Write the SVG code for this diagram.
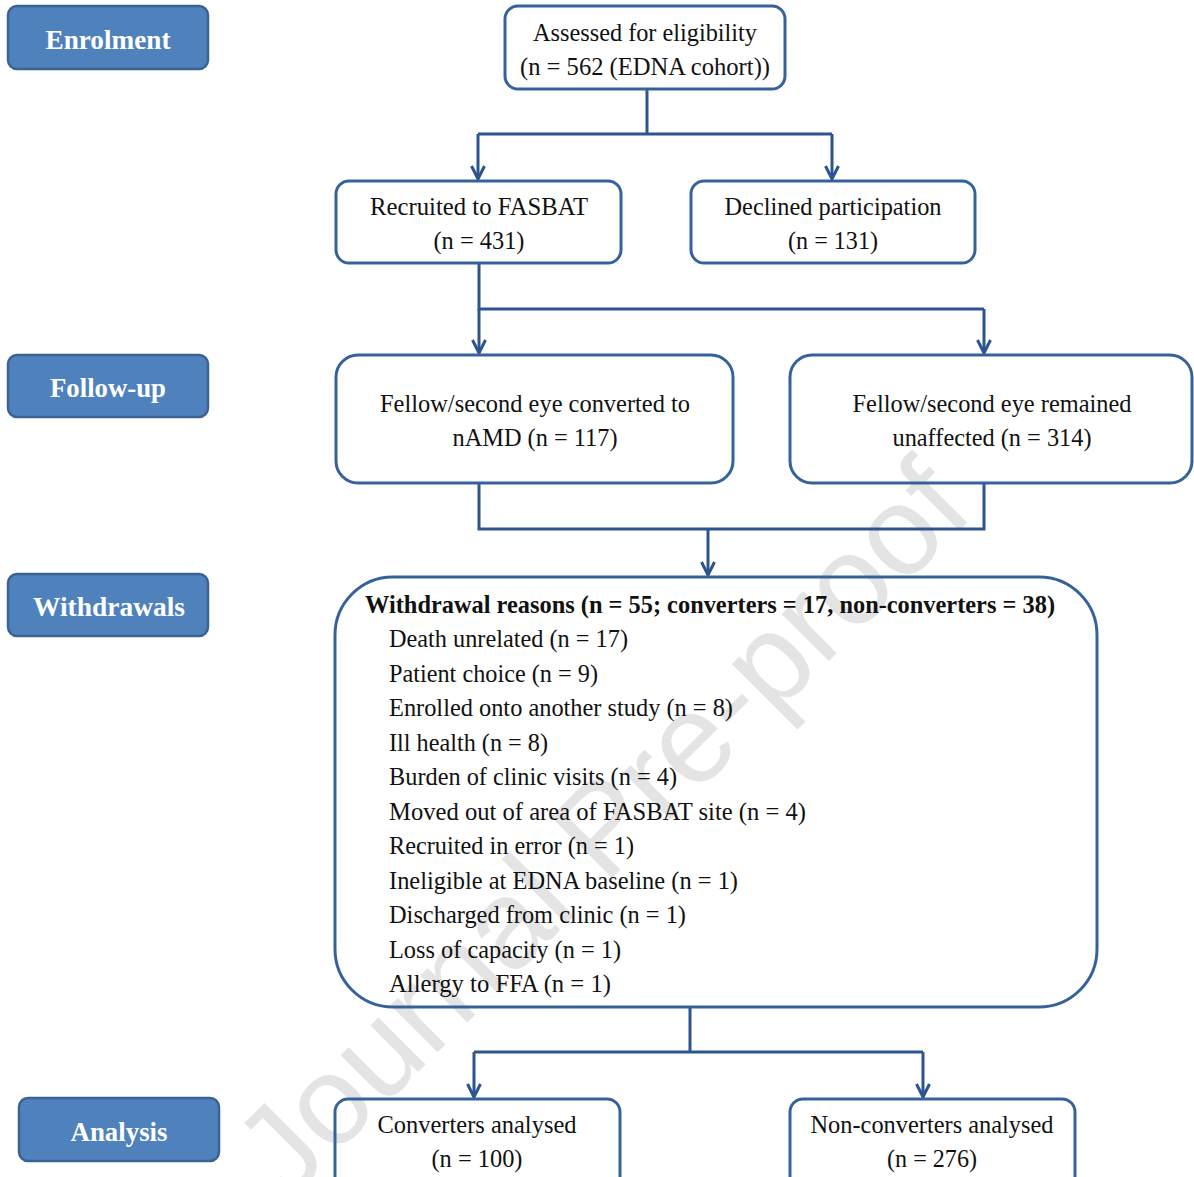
<svg xmlns="http://www.w3.org/2000/svg" width="1194" height="1177" viewBox="0 0 1194 1177">
<defs>
<style>
.lbl rect{fill:#4F81BD;stroke:#3A6293;stroke-width:2.5}
.lbl text{font-family:"Liberation Serif",serif;font-weight:bold;font-size:28px;fill:#fff;text-anchor:middle}
.box rect{fill:none;stroke:#36629C;stroke-width:3}
.box text{font-family:"Liberation Serif",serif;font-size:26px;fill:#111;text-anchor:middle}
.box text.l{text-anchor:start}
.box text.b{font-weight:bold;text-anchor:start}
.con path{fill:none;stroke:#2C5490;stroke-width:3}
.wm{font-family:"Liberation Sans",sans-serif;font-size:126px;fill:#e4e4e4;text-anchor:middle}
</style>
<marker id="arr" markerUnits="userSpaceOnUse" viewBox="-16 -9 18 18" refX="0" refY="0" markerWidth="18" markerHeight="18" orient="auto">
<path d="M-13,-6.5 L0,0 L-13,6.5" fill="none" stroke="#2C5490" stroke-width="3"/>
</marker>
</defs>
<rect width="1194" height="1177" fill="#fff"/>
<text class="wm" transform="translate(632,858) rotate(-45)">Journal Pre-proof</text>

<g id="lbl-enrolment" class="lbl"><rect x="8" y="6" width="200" height="63" rx="9"/><text x="108" y="49" textLength="125" lengthAdjust="spacingAndGlyphs">Enrolment</text></g>
<g id="lbl-followup" class="lbl"><rect x="8" y="355" width="200" height="62" rx="9"/><text x="108" y="397" textLength="116" lengthAdjust="spacingAndGlyphs">Follow-up</text></g>
<g id="lbl-withdrawals" class="lbl"><rect x="8" y="574" width="200" height="62" rx="9"/><text x="109" y="616" textLength="152" lengthAdjust="spacingAndGlyphs">Withdrawals</text></g>
<g id="lbl-analysis" class="lbl"><rect x="19" y="1098" width="200" height="63" rx="9"/><text x="119" y="1141" textLength="97" lengthAdjust="spacingAndGlyphs">Analysis</text></g>

<g id="connectors" class="con">
<path d="M647,88 V134"/>
<path d="M478,134 H832"/>
<path d="M478,134 V179" marker-end="url(#arr)"/>
<path d="M832,134 V179" marker-end="url(#arr)"/>
<path d="M479,263 V309 H984"/>
<path d="M479,309 V353" marker-end="url(#arr)"/>
<path d="M984,309 V353" marker-end="url(#arr)"/>
<path d="M479,483 V529 H984 V483"/>
<path d="M708,529 V575" marker-end="url(#arr)"/>
<path d="M690,1007 V1052"/>
<path d="M474,1052 H923"/>
<path d="M474,1052 V1097" marker-end="url(#arr)"/>
<path d="M923,1052 V1097" marker-end="url(#arr)"/>
</g>

<g id="assessed" class="box"><rect x="505" y="6" width="280" height="83" rx="13"/>
<text x="645" y="41" textLength="224" lengthAdjust="spacingAndGlyphs">Assessed for eligibility</text>
<text x="645" y="75" textLength="250" lengthAdjust="spacingAndGlyphs">(n = 562 (EDNA cohort))</text></g>

<g id="recruited" class="box"><rect x="336" y="181" width="285" height="82" rx="13"/>
<text x="479" y="215" textLength="218" lengthAdjust="spacingAndGlyphs">Recruited to FASBAT</text>
<text x="479" y="249" textLength="91" lengthAdjust="spacingAndGlyphs">(n = 431)</text></g>

<g id="declined" class="box"><rect x="691" y="181" width="284" height="82" rx="13"/>
<text x="833" y="215" textLength="217" lengthAdjust="spacingAndGlyphs">Declined participation</text>
<text x="833" y="249" textLength="90" lengthAdjust="spacingAndGlyphs">(n = 131)</text></g>

<g id="converted" class="box"><rect x="336" y="355" width="397" height="128" rx="22"/>
<text x="535" y="412" textLength="310" lengthAdjust="spacingAndGlyphs">Fellow/second eye converted to</text>
<text x="535" y="446" textLength="165" lengthAdjust="spacingAndGlyphs">nAMD (n = 117)</text></g>

<g id="unaffected" class="box"><rect x="790" y="355" width="402" height="128" rx="22"/>
<text x="992" y="412" textLength="279" lengthAdjust="spacingAndGlyphs">Fellow/second eye remained</text>
<text x="992" y="446" textLength="199" lengthAdjust="spacingAndGlyphs">unaffected (n = 314)</text></g>

<g id="withdrawals" class="box"><rect x="335" y="577" width="762" height="430" rx="58"/>
<text class="b" x="365" y="613" textLength="690" lengthAdjust="spacingAndGlyphs">Withdrawal reasons (n = 55; converters = 17, non-converters = 38)</text>
<text class="l" x="389" y="647" textLength="239" lengthAdjust="spacingAndGlyphs">Death unrelated (n = 17)</text>
<text class="l" x="389" y="681.5" textLength="209" lengthAdjust="spacingAndGlyphs">Patient choice (n = 9)</text>
<text class="l" x="389" y="716" textLength="344" lengthAdjust="spacingAndGlyphs">Enrolled onto another study (n = 8)</text>
<text class="l" x="389" y="750.5" textLength="159" lengthAdjust="spacingAndGlyphs">Ill health (n = 8)</text>
<text class="l" x="389" y="785" textLength="288" lengthAdjust="spacingAndGlyphs">Burden of clinic visits (n = 4)</text>
<text class="l" x="389" y="819.5" textLength="417" lengthAdjust="spacingAndGlyphs">Moved out of area of FASBAT site (n = 4)</text>
<text class="l" x="389" y="854" textLength="245" lengthAdjust="spacingAndGlyphs">Recruited in error (n = 1)</text>
<text class="l" x="389" y="888.5" textLength="349" lengthAdjust="spacingAndGlyphs">Ineligible at EDNA baseline (n = 1)</text>
<text class="l" x="389" y="923" textLength="297" lengthAdjust="spacingAndGlyphs">Discharged from clinic (n = 1)</text>
<text class="l" x="389" y="957.5" textLength="232" lengthAdjust="spacingAndGlyphs">Loss of capacity (n = 1)</text>
<text class="l" x="389" y="992" textLength="222" lengthAdjust="spacingAndGlyphs">Allergy to FFA (n = 1)</text></g>

<g id="conv-analysed" class="box"><rect x="335" y="1099" width="285" height="100" rx="13"/>
<text x="477" y="1133" textLength="199" lengthAdjust="spacingAndGlyphs">Converters analysed</text>
<text x="477" y="1167" textLength="91" lengthAdjust="spacingAndGlyphs">(n = 100)</text></g>

<g id="nonconv-analysed" class="box"><rect x="790" y="1099" width="285" height="100" rx="13"/>
<text x="932" y="1133" textLength="243" lengthAdjust="spacingAndGlyphs">Non-converters analysed</text>
<text x="932" y="1167" textLength="90" lengthAdjust="spacingAndGlyphs">(n = 276)</text></g>
</svg>
